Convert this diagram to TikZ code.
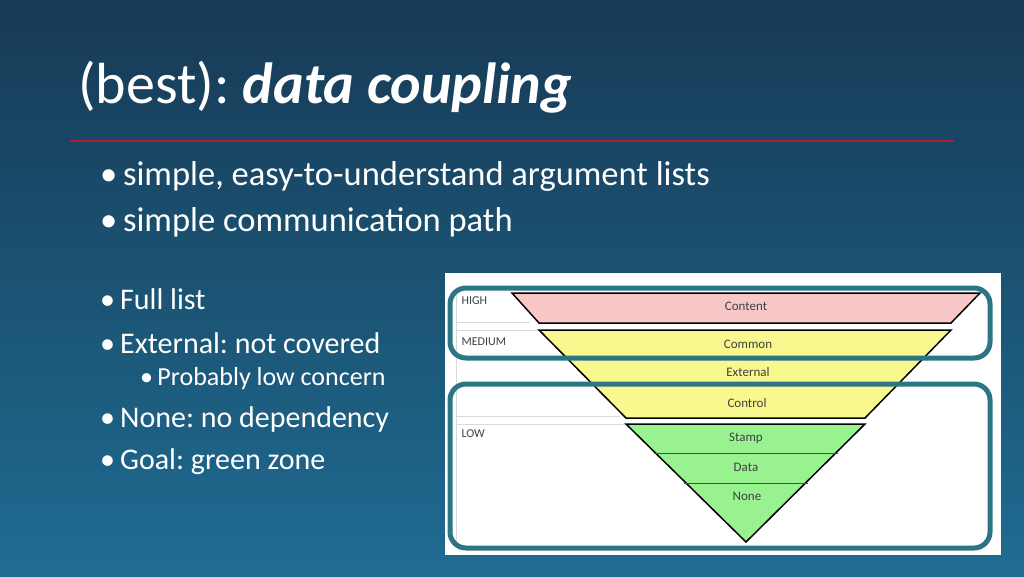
\documentclass[tikz,border=0pt]{standalone}
\usepackage{fontspec}
\setmainfont{Carlito}
\frenchspacing
\usetikzlibrary{positioning}
\definecolor{bgtop}{HTML}{173A55}
\definecolor{bgbot}{HTML}{1F6C92}
\definecolor{teal}{HTML}{2B7585}
\definecolor{redline}{HTML}{B0202A}
\definecolor{pinkzone}{HTML}{F8C8C8}
\definecolor{yellowzone}{HTML}{F8F88E}
\definecolor{greenzone}{HTML}{98F290}
\tikzset{
  bullet/.style={anchor=west,text=white,font=\fontsize{34.5}{40}\selectfont,inner sep=0pt},
  smallbullet/.style={anchor=west,text=white,font=\fontsize{30}{35}\selectfont,inner sep=0pt},
  subbullet/.style={anchor=west,text=white,font=\fontsize{26}{30}\selectfont,inner sep=0pt},
  level/.style={anchor=west,font=\fontsize{12}{14}\selectfont,text=black!75},
  zone/.style={font=\fontsize{13}{15}\selectfont,text=black!75},
  band/.style={draw=black,line width=1.5pt},
  grayline/.style={draw=black!15,line width=1pt},
  frame/.style={draw=teal,line width=5pt,rounded corners=16pt}
}
\begin{document}
\begin{tikzpicture}[x=1pt,y=-1pt]
  \useasboundingbox (0,0) rectangle (1024,576);
  \shade[top color=bgtop,bottom color=bgbot] (0,0) rectangle (1024,576);
  % title
  \node[anchor=base west,text=white,font=\fontsize{58}{64}\selectfont,inner sep=0pt] (title) at (78,103)
    {(best): \textbf{\textit{data coupling}}};
  \draw[redline,line width=2.5pt] (70,141) -- (954,141);
  % bullets
  \node[bullet] (b1) at (100,176) {\textbullet\,simple, easy-to-understand argument lists};
  \node[bullet] (b2) at (100,222) {\textbullet\,simple communication path};
  \node[smallbullet] (b3) at (100,299) {\textbullet\,Full list};
  \node[smallbullet] (b4) at (100,343) {\textbullet\,External: not covered};
  \node[subbullet] (b5) at (140,379) {\textbullet\,Probably low concern};
  \node[smallbullet] (b6) at (100,419) {\textbullet\,None: no dependency};
  \node[smallbullet] (b7) at (100,462) {\textbullet\,Goal: green zone};
  % coupling pyramid
  \fill[white] (445,273) rectangle (1001,555);
  \draw[grayline] (456,293) -- (456,545);
  \draw[grayline] (456,322) -- (530,322);
  \draw[grayline] (456,330) -- (540,330);
  \draw[grayline] (456,416) -- (620,416);
  \draw[grayline] (456,424) -- (626,424);
  \node[level] (high) at (458,301) {HIGH};
  \node[level] (medium) at (458,342) {MEDIUM};
  \node[level] (low) at (458,434) {LOW};
  \filldraw[band,fill=pinkzone] (512,293) -- (980,293) -- (951,323) -- (539,323) -- cycle;
  \filldraw[band,fill=yellowzone] (539,330) -- (951,330) -- (865,418) -- (626,418) -- cycle;
  \filldraw[band,fill=greenzone] (626,424) -- (865,424) -- (746,542) -- cycle;
  \draw[black!70,line width=0.6pt] (654,453) -- (838,453);
  \draw[black!70,line width=0.6pt] (684,483) -- (808,483);
  \node[zone] (content) at (746,306) {Content};
  \node[zone] (common) at (748,344) {Common};
  \node[zone] (external) at (748,372) {External};
  \node[zone] (control) at (747,403) {Control};
  \node[zone] (stamp) at (746,438) {Stamp};
  \node[zone] (data) at (746,467) {Data};
  \node[zone] (none) at (747,496) {None};
  \draw[frame] (450,288) rectangle (990,358);
  \draw[frame] (450,384) rectangle (990,548);
\end{tikzpicture}
\end{document}
